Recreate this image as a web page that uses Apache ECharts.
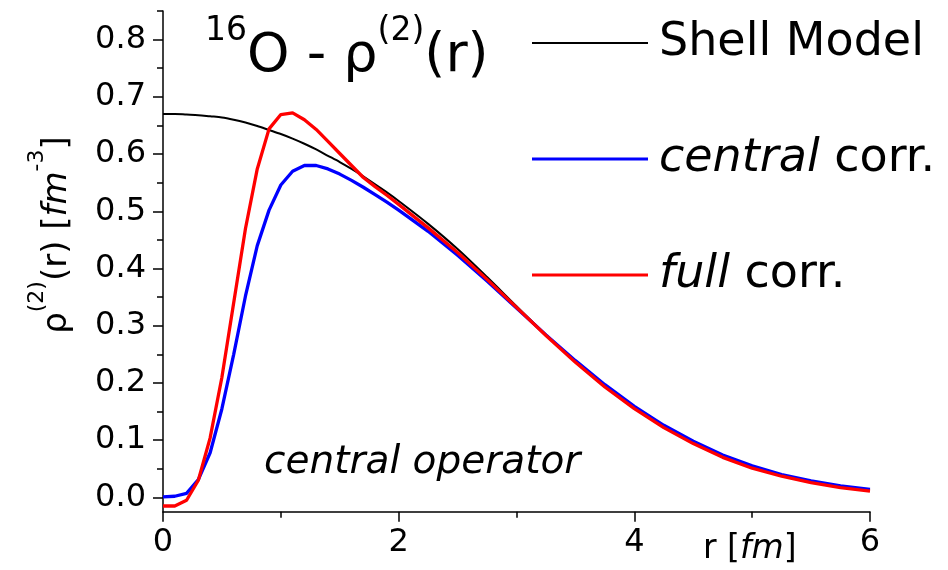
<!DOCTYPE html>
<html><head><meta charset="utf-8">
<script src="https://cdn.jsdelivr.net/npm/echarts@6/dist/echarts.min.js"></script>
<style>html,body{margin:0;padding:0;background:#fff}#c{width:948px;height:570px}</style>
</head><body><div id="c"></div>
<script>
const rValues = [0,0.1,0.2,0.3,0.4,0.5,0.6,0.7,0.8,0.9,1.0,1.1,1.2,1.3,1.4,1.5,1.6,1.7,1.8,1.9,2.0,
  2.25,2.5,2.75,3.0,3.25,3.5,3.75,4.0,4.25,4.5,4.75,5.0,5.25,5.5,5.75,6.0];
const shellModel = [0.670,0.670,0.669,0.668,0.666,0.664,0.660,0.655,0.649,0.642,0.635,
  0.627,0.618,0.608,0.597,0.586,0.574,0.561,0.547,0.533,0.518,
  0.478,0.434,0.385,0.334,0.284,0.237,0.194,0.156,0.123,0.095,0.071,0.052,0.038,0.027,0.018,0.012];
const centralCorr = [0.001,0.002,0.007,0.031,0.078,0.155,0.250,0.352,0.440,0.502,0.546,
  0.570,0.580,0.580,0.574,0.565,0.554,0.542,0.529,0.516,0.502,
  0.465,0.423,0.378,0.331,0.284,0.239,0.197,0.159,0.126,0.098,0.074,0.055,0.040,0.029,0.020,0.014];
const fullCorr = [-0.015,-0.015,-0.005,0.030,0.104,0.210,0.340,0.470,0.574,0.644,0.669,
  0.672,0.660,0.643,0.622,0.601,0.580,0.559,0.543,0.528,0.512,
  0.471,0.428,0.381,0.332,0.283,0.236,0.193,0.155,0.122,0.094,0.070,0.051,0.037,0.026,0.017,0.011];
const seriesNames = ['Shell Model','central corr.','full corr.'];
const yMajorTicks = [0,0.1,0.2,0.3,0.4,0.5,0.6,0.7,0.8];
const yMinorTicks = [0.05,0.15,0.25,0.35,0.45,0.55,0.65,0.75,0.85];

const FF = 'DejaVu Sans';
const pairs = arr => rValues.map((r,i)=>[r,arr[i]]);
const chart = echarts.init(document.getElementById('c'), null, {renderer:'canvas'});
const axisLineStyle = {color:'#000', width:1.5};
chart.setOption({
  animation:false,
  backgroundColor:'#fff',
  grid:{left:163,right:78,top:11,bottom:58.3,containLabel:false},
  xAxis:{type:'value',min:0,max:6,interval:2,
    axisLine:{show:true,lineStyle:axisLineStyle,onZero:false},
    axisTick:{show:true,length:10,lineStyle:axisLineStyle},
    minorTick:{show:true,splitNumber:2,length:6,lineStyle:axisLineStyle},
    splitLine:{show:false},minorSplitLine:{show:false},
    axisLabel:{fontFamily:FF,fontSize:32,color:'#000',margin:15}
  },
  yAxis:[{type:'value',min:-0.025,max:0.85,position:'left',
    axisLine:{show:true,lineStyle:axisLineStyle,onZero:false},
    axisTick:{show:true,length:10,lineStyle:axisLineStyle,customValues:yMajorTicks},
    splitLine:{show:false},
    axisLabel:{fontFamily:FF,fontSize:32,color:'#000',margin:17,customValues:yMajorTicks,
      formatter:v=>v.toFixed(1)}
  },{type:'value',min:-0.025,max:0.85,position:'left',offset:0,
    axisLine:{show:false},
    axisTick:{show:true,length:6,lineStyle:axisLineStyle,customValues:yMinorTicks},
    splitLine:{show:false},
    axisLabel:{show:false,customValues:yMinorTicks}
  }],
  legend:{orient:'vertical',left:527,top:15,itemWidth:116,itemHeight:3,itemGap:70,
    selectedMode:false,symbolKeepAspect:true,
    data:[{name:seriesNames[0],icon:'path://M0,0H58V1H0Z'},
          {name:seriesNames[1],icon:'rect'},
          {name:seriesNames[2],icon:'rect'}],
    formatter:n=>{
      if(n==='central corr.') return '{i|central}{n| corr.}';
      if(n==='full corr.') return '{i|full}{n| corr.}';
      return '{n|'+n+'}';
    },
    textStyle:{fontFamily:FF,fontSize:46,color:'#000',padding:[0,0,0,6],
      rich:{n:{fontFamily:FF,fontSize:46,color:'#000',lineHeight:50},
            i:{fontFamily:FF,fontSize:46,color:'#000',fontStyle:'italic',lineHeight:50}}}
  },
  series:[
    {name:seriesNames[0],type:'line',data:pairs(shellModel),symbol:'none',smooth:0.3,
      lineStyle:{color:'#000',width:2},itemStyle:{color:'#000'},z:3},
    {name:seriesNames[1],type:'line',data:pairs(centralCorr),symbol:'none',smooth:false,
      lineStyle:{color:'#0000ff',width:3.3},itemStyle:{color:'#0000ff'},z:4},
    {name:seriesNames[2],type:'line',data:pairs(fullCorr),symbol:'none',smooth:false,
      lineStyle:{color:'#ff0000',width:3.3},itemStyle:{color:'#ff0000'},z:5}
  ],
  graphic:[
    {type:'text',x:205,y:57,style:{text:'{s|16}{m|O - ρ}{s|(2)}{m|(r)}',align:'left',verticalAlign:'middle',
      rich:{s:{fontFamily:FF,fontSize:33,fill:'#000',padding:[0,0,51,0]},
            m:{fontFamily:FF,fontSize:54,fill:'#000'}}}},
    {type:'text',x:57,y:235,rotation:Math.PI/2,style:{text:'{m|ρ}{s|(2)}{m|(r) [}{i|fm}{s|-3}{m|]}',align:'center',verticalAlign:'middle',
      rich:{s:{fontFamily:FF,fontSize:22,fill:'#000',padding:[0,0,39,0]},
            m:{fontFamily:FF,fontSize:34,fill:'#000'},
            i:{fontFamily:FF,fontSize:34,fill:'#000',fontStyle:'italic'}}}},
    {type:'text',x:703,y:549,style:{text:'{m|r [}{i|fm}{m|]}',align:'left',verticalAlign:'middle',
      rich:{m:{fontFamily:FF,fontSize:33,fill:'#000'},i:{fontFamily:FF,fontSize:33,fill:'#000',fontStyle:'italic'}}}},
    {type:'text',x:264,y:463,style:{text:'central operator',align:'left',verticalAlign:'middle',
      font:'italic 39px "DejaVu Sans"',fill:'#000'}}
  ]
});
</script></body></html>
